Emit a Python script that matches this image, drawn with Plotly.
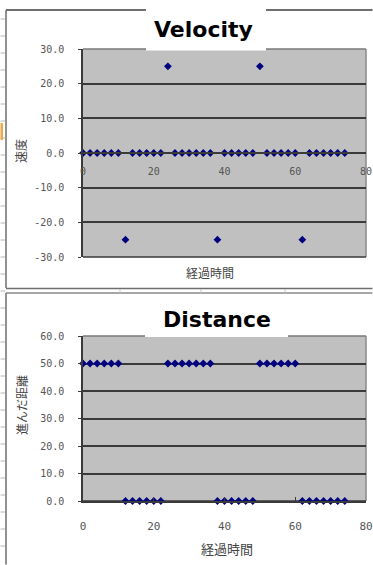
import plotly.graph_objects as go

W, H = 373, 565


def fx(px):
    return px / W


def fy(py):
    return 1 - py / H


# elapsed time samples
elapsed = [0, 2, 4, 6, 8, 10, 12, 14, 16, 18, 20, 22, 24, 26, 28, 30, 32, 34, 36,
           38, 40, 42, 44, 46, 48, 50, 52, 54, 56, 58, 60, 62, 64, 66, 68, 70, 72, 74]

# velocity at each sample
velocity = [0, 0, 0, 0, 0, 0, -25, 0, 0, 0, 0, 0, 25, 0, 0, 0, 0, 0, 0,
            -25, 0, 0, 0, 0, 0, 25, 0, 0, 0, 0, 0, -25, 0, 0, 0, 0, 0, 0]

# distance travelled at each sample
distance = [50, 50, 50, 50, 50, 50, 0, 0, 0, 0, 0, 0, 50, 50, 50, 50, 50, 50, 50,
            0, 0, 0, 0, 0, 0, 50, 50, 50, 50, 50, 50, 0, 0, 0, 0, 0, 0, 0]

x_ticks = [0, 20, 40, 60, 80]
vel_ticks = [-30, -20, -10, 0, 10, 20, 30]
vel_labels = ["-30.0", "-20.0", "-10.0", "0.0", "10.0", "20.0", "30.0"]
dist_ticks = [0, 10, 20, 30, 40, 50, 60]
dist_labels = ["0.0", "10.0", "20.0", "30.0", "40.0", "50.0", "60.0"]

MARK = dict(symbol="diamond", size=6, color="#000080", line=dict(width=0))
DARK = "#3a3a3a"
TICKFONT = dict(family="DejaVu Sans Mono", size=10, color="#555555")
JPFONT = dict(family="Noto Sans CJK JP", size=12, color="#444444")
TITLEFONT = dict(family="DejaVu Sans", size=22, color="#000000")

fig = go.Figure()
fig.add_trace(go.Scatter(x=elapsed, y=velocity, mode="markers", marker=MARK,
                         xaxis="x", yaxis="y", cliponaxis=False, showlegend=False))
fig.add_trace(go.Scatter(x=elapsed, y=distance, mode="markers", marker=MARK,
                         xaxis="x2", yaxis="y2", cliponaxis=False, showlegend=False))

fig.update_layout(
    width=W, height=H,
    margin=dict(l=0, r=0, t=0, b=0, autoexpand=False),
    paper_bgcolor="white",
    plot_bgcolor="#c0c0c0",
    xaxis=dict(domain=[fx(83), fx(366)], range=[0, 80], tickvals=x_ticks,
               anchor="free", position=fy(153), showline=True, linecolor=DARK,
               linewidth=1.5, showgrid=False, zeroline=False, ticks="",
               ticklabelstandoff=9, tickfont=TICKFONT, automargin=False),
    yaxis=dict(domain=[fy(257), fy(49)], range=[-30, 30], tickvals=vel_ticks,
               ticktext=vel_labels, showgrid=True, gridcolor=DARK, gridwidth=1.5,
               zeroline=False, showline=True, linecolor=DARK, linewidth=1.5,
               ticks="outside", ticklen=3, tickcolor=DARK, anchor="x",
               ticklabelstandoff=12, tickfont=TICKFONT, automargin=False),
    xaxis2=dict(domain=[fx(83), fx(366)], range=[0, 80], tickvals=x_ticks,
                anchor="y2", showline=True, linecolor=DARK, linewidth=1.5,
                showgrid=False, zeroline=False, ticks="inside", ticklen=4,
                tickcolor=DARK, ticklabelstandoff=14, automargin=False,
                tickfont=dict(family="DejaVu Sans Mono", size=11, color="#555555")),
    yaxis2=dict(domain=[fy(501), fy(336)], range=[0, 60], tickvals=dist_ticks,
                ticktext=dist_labels, showgrid=True, gridcolor=DARK, gridwidth=1.5,
                zeroline=False, showline=True, linecolor=DARK, linewidth=1.5,
                ticks="outside", ticklen=3, tickcolor=DARK, anchor="x2",
                ticklabelstandoff=12, tickfont=TICKFONT, automargin=False),
)

shapes = []


def pline(x0, y0, x1, y1, color, width=1.5, layer="above"):
    shapes.append(dict(type="line", xref="paper", yref="paper",
                       x0=fx(x0), y0=fy(y0), x1=fx(x1), y1=fy(y1),
                       line=dict(color=color, width=width), layer=layer))


def prect(x0, y0, x1, y1, fill, layer="above"):
    shapes.append(dict(type="rect", xref="paper", yref="paper",
                       x0=fx(x0), y0=fy(y0), x1=fx(x1), y1=fy(y1),
                       fillcolor=fill, line=dict(width=0), layer=layer))


# sheet row markers along the left edge
for k in range(32):
    yy = 19 + 17 * k
    pline(0.5, yy, 5, yy, "#b8b8b8", 1)
prect(0.5, 123, 3, 140, "#f0a848")

# chart frames
pline(6, 10, 372.5, 10, "#6e6e6e", 2)
pline(6, 10, 6, 288, "#6e6e6e", 1.5)
pline(6, 288.5, 372.5, 288.5, "#6e6e6e", 1.5)
pline(6, 293, 372.5, 293, "#8a8a8a", 1.5)
pline(6, 293, 6, 564.5, "#6e6e6e", 1.5)
for cx in (120, 201, 285):
    pline(cx, 289, cx, 293, "#c4c4c4", 1)

# plot-area edges (drawn over the grid, under the markers)
for xa, ya in (("x", "y"), ("x2", "y2")):
    shapes.append(dict(type="line", xref=f"{xa} domain", yref=f"{ya} domain",
                       x0=0, y0=1, x1=1, y1=1, line=dict(color="#7a7a7a", width=1.5),
                       layer="below"))
    shapes.append(dict(type="line", xref=f"{xa} domain", yref=f"{ya} domain",
                       x0=1, y0=0, x1=1, y1=1, line=dict(color="#8a8a8a", width=1.5),
                       layer="below"))
    shapes.append(dict(type="line", xref=f"{xa} domain", yref=f"{ya} domain",
                       x0=0, y0=0, x1=1, y1=0, line=dict(color=DARK, width=1.5),
                       layer="below"))

# white title backgrounds
prect(146, 8, 266, 50.5, "white")
prect(145, 294.5, 288, 337, "white")

fig.update_layout(shapes=shapes)

annotations = [
    dict(text="<b>Velocity</b>", x=fx(203), y=fy(30), font=TITLEFONT),
    dict(text="<b>Distance</b>", x=fx(217), y=fy(319), font=TITLEFONT),
    dict(text="速度", x=fx(21), y=fy(151), textangle=-90, font=JPFONT),
    dict(text="進んだ距離", x=fx(21), y=fy(405), textangle=-90, font=JPFONT),
    dict(text="経過時間", x=fx(210), y=fy(272), font=JPFONT),
    dict(text="経過時間", x=fx(227), y=fy(548), font=dict(JPFONT, size=13)),
]
for a in annotations:
    a.update(xref="paper", yref="paper", showarrow=False,
             xanchor="center", yanchor="middle")
fig.update_layout(annotations=annotations)

fig.write_html(
    "out.html",
    config={"displayModeBar": False},
    post_script="document.body.style.margin='0';document.body.style.overflow='hidden';",
)
